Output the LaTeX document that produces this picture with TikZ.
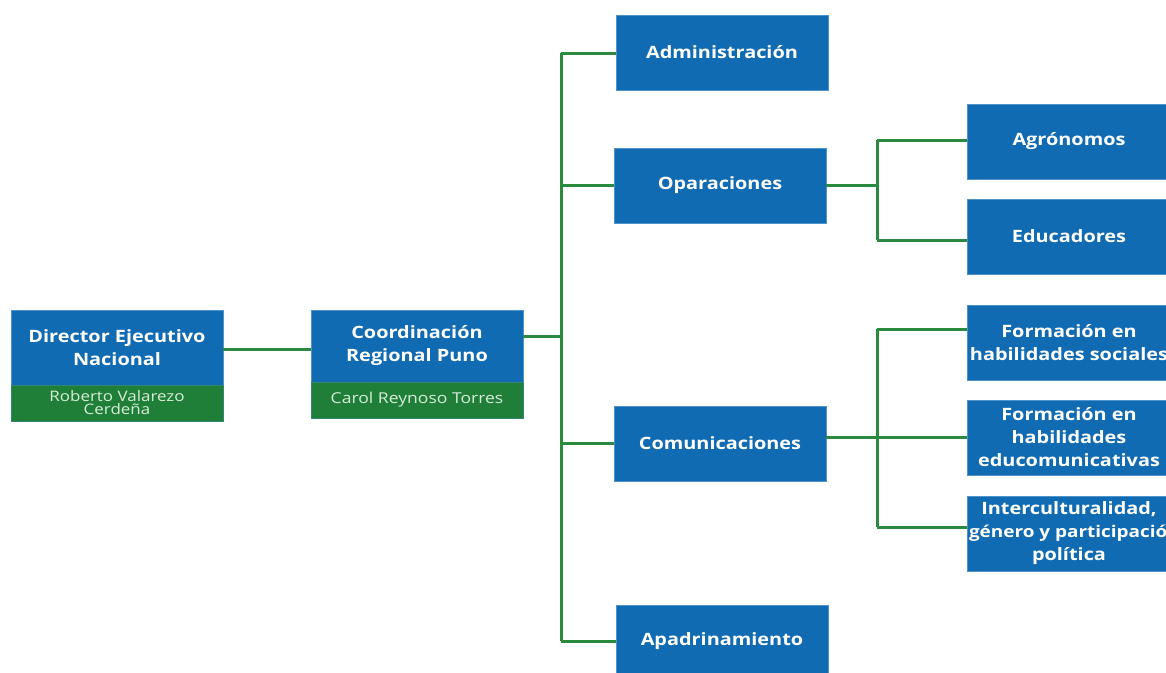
\documentclass[tikz,border=0pt]{standalone}
\usepackage{fontspec}
\setmainfont{Open Sans}[FakeStretch=1.17]
\definecolor{boxblue}{HTML}{106BB2}
\definecolor{boxedge}{HTML}{4D93CC}
\definecolor{boxgreen}{HTML}{1F7F38}
\definecolor{linkgreen}{HTML}{2A8A3E}
\definecolor{nametext}{HTML}{D8ECDA}
\begin{document}
\begin{tikzpicture}[x=1pt,y=-1pt,
  bluebox/.style={rectangle, fill=boxblue, draw=boxedge, line width=0.6pt, text=white,
    font=\fontsize{17}{23}\selectfont\bfseries, align=center, inner sep=0pt,
    minimum width=212pt, minimum height=75pt},
  namebox/.style={rectangle, fill=boxgreen, draw=boxedge!40!boxgreen, line width=0.6pt, text=nametext,
    align=center, inner sep=0pt, minimum width=212pt, minimum height=36pt},
  link/.style={draw=linkgreen, line width=3pt}]
\useasboundingbox (0,0) rectangle (1166,672);
\clip (0,0) rectangle (1166,672);
\fill[white] (0,0) rectangle (1166,672);

% left part
\node[bluebox] (dirT) at (117,347.5) {Director Ejecutivo\\Nacional};
\node[namebox, font=\fontsize{14.5}{13}\selectfont] (dirB) at (117,403) {Roberto Valarezo\\Cerdeña};
\node[bluebox, minimum height=72pt] (coordT) at (417,346) {Coordinación\\Regional Puno};
\node[namebox, font=\fontsize{15}{17}\selectfont] (coordB) at (417,400) {Carol Reynoso Torres};

% middle column
\node[bluebox] (adm) at (722,52.5) {Administración};
\node[bluebox] (opa) at (720,185.5) {Oparaciones};
\node[bluebox] (com) at (720,443.5) {Comunicaciones};
\node[bluebox, minimum height=72pt] (apa) at (722,641) {Apadrinamiento};

% right column
\node[bluebox, minimum width=204pt] (agr) at (1069,141.5) {Agrónomos};
\node[bluebox, minimum width=204pt] (edu) at (1069,236.5) {Educadores};
\node[bluebox, minimum width=204pt] (fhs) at (1069,342.5) {Formación en\\habilidades sociales};
\node[bluebox, minimum width=204pt] (fhe) at (1069,437.5) {Formación en\\habilidades\\educomunicativas};
\node[bluebox, minimum width=204pt] (int) at (1069,533.5) {\makebox[204pt][c]{Interculturalidad,}\\\makebox[204pt][l]{\hspace{2pt}\fontsize{16.2}{23}\selectfont género y participación}\\\makebox[204pt][c]{política}};

% trunk coordinates
\coordinate (tt) at (561,53);
\coordinate (tb) at (561,641);
\coordinate (s1t) at (877,140);
\coordinate (s1b) at (877,240);
\coordinate (s2t) at (877,329);
\coordinate (s2b) at (877,527);

% connectors
\draw[link] ([yshift=-1.5pt]dirT.east) -- ([yshift=-1.5pt]dirT.east -| coordT.west);
\draw[link] ([yshift=10pt]coordT.east) -- ([yshift=10pt]coordT.east -| tt);
\draw[link] (tt) -- (tb);
\draw[link] (tt) -- (tt -| adm.west);
\draw[link] (opa.west -| tt) -- (opa.west);
\draw[link] (com.west -| tt) -- (com.west);
\draw[link] (tb) -- (tb -| apa.west);

\draw[link] (s1t) -- (s1b);
\draw[link] (opa.east) -- (opa.east -| s1t);
\draw[link] (s1t) -- (s1t -| agr.west);
\draw[link] (s1b) -- (s1b -| edu.west);

\draw[link] (s2t) -- (s2b);
\draw[link] (fhe.west -| com.east) -- (fhe.west);
\draw[link] (s2t) -- (s2t -| fhs.west);
\draw[link] (s2b) -- (s2b -| int.west);
\end{tikzpicture}
\end{document}
